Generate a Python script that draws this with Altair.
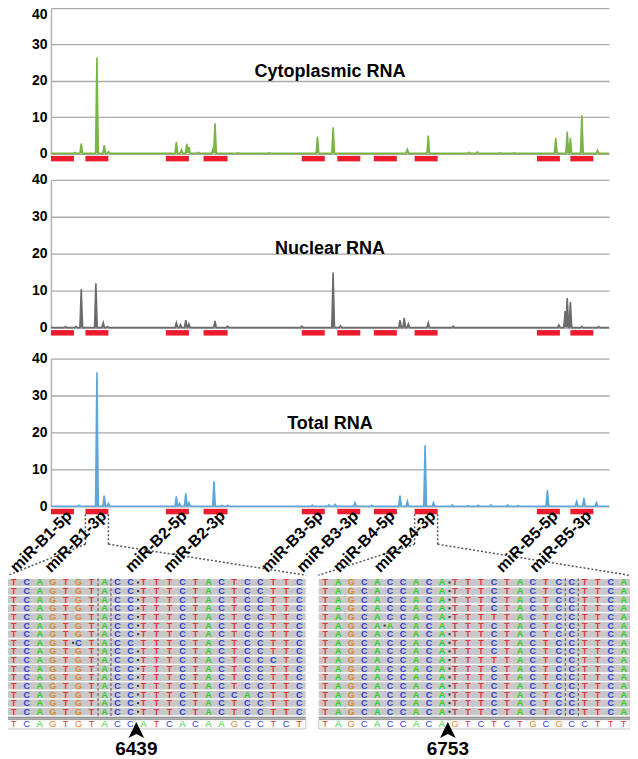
import altair as alt
import pandas as pd

FONT = "Liberation Sans"

# ---------------- data ----------------
# genome window shown (nt)
X_DOMAIN = [6394, 6928]

# read-coverage peaks (position nt, reads per million)
cyto_pos = [6417, 6423, 6438, 6445, 6449, 6514, 6519, 6524, 6526, 6535, 6549, 6551, 6573, 6603,
            6649, 6664, 6735, 6755, 6794, 6802, 6824, 6837, 6877, 6888, 6891, 6902, 6917]
cyto_val = [0.3, 2.7, 26.4, 2.3, 0.5, 3.2, 1.0, 2.6, 1.8, 0.3, 1.2, 8.3, 0.2, 0.2,
            4.6, 7.2, 1.1, 4.9, 0.3, 0.4, 0.2, 0.2, 4.3, 6.0, 4.3, 10.5, 0.8]

nuc_pos = [6408, 6418, 6423, 6437, 6444, 6448, 6514, 6518, 6523, 6526, 6551, 6563, 6634,
           6664, 6671, 6728, 6732, 6736, 6755, 6779, 6880, 6886, 6888, 6891, 6902, 6918]
nuc_val = [0.3, 0.3, 10.4, 12.0, 1.3, 0.3, 1.3, 0.8, 2.0, 1.0, 1.8, 0.4, 0.4,
           14.9, 0.5, 2.0, 2.6, 1.0, 1.3, 0.4, 0.7, 4.5, 8.0, 6.9, 0.3, 0.3]

tot_pos = [6421, 6438, 6445, 6449, 6514, 6517, 6523, 6526, 6550, 6558, 6563, 6644, 6660, 6666,
           6685, 6701, 6728, 6735, 6752, 6760, 6778, 6793, 6803, 6815, 6831, 6841, 6869,
           6897, 6904, 6916]
tot_val = [0.3, 36.3, 2.9, 0.8, 2.7, 0.8, 3.5, 1.0, 6.8, 0.3, 0.3, 0.3, 0.4, 0.5,
           1.0, 0.3, 2.9, 1.4, 16.5, 1.0, 0.4, 0.2, 0.3, 0.4, 0.4, 0.2, 4.4,
           1.3, 2.3, 1.0]

mir_names = ["miR-B1-5p", "miR-B1-3p", "miR-B2-5p", "miR-B2-3p", "miR-B3-5p",
             "miR-B3-3p", "miR-B4-5p", "miR-B4-3p", "miR-B5-5p", "miR-B5-3p"]
mir_start = [6394, 6427, 6504, 6540, 6634, 6668, 6703, 6742, 6859, 6891]
mir_end = [6416, 6449, 6526, 6563, 6656, 6690, 6725, 6764, 6881, 6913]

# zoomed loci: bar edges and where the callout lines land
callout_edge = [6427, 6449, 6742, 6764]
callout_target = [6353, 6638, 6650, 6947]

# read alignments ('.' = gap marker before the next base)
left_reads = ["TCAGTGTACC.TTTCTACTCCTTC"] * 7 + ["TCAGT.CTACCTTTCTACTCCTTC",
              "TCAGTGTACC.TTTCTACTCCTTC", "TCAGTGTACC.TTTCTACTCCCTC"] + \
             ["TCAGTGTACC.TTTCTACTCCTTC"] * 3 + ["TCAGTGTACC.TTTCTACCACTTC"] + \
             ["TCAGTGTACC.TTTCTACTCCTTC"] * 2
right_reads = ["TAGCACCACA.TTTCTACTCCTTCA"] * 4 + ["TAGCACCACA.TTTTTACTCCTTCA",
               "TAGCA.ACACATTTCTACTCCTTCA"] + ["TAGCACCACA.TTTCTACTCCTTCA"] * 3 + \
              ["TAGCACCACA.TTTTTACTCCTTCA"] + ["TAGCACCACA.TTTCTACTCCTTCA"] * 6
ref_left = "TCAGTGTACCATCACAAGCCTCT"
ref_right = "TAGCACCACAGTCTCTGCGCCTTT"
site_labels = ["6439", "6753"]

# ---------------- styles ----------------
W, H = 559, 148
H1 = 145.5
RED = "#ee1b2e"
BASE_COLORS = ["#2ccf2c", "#2f40d8", "#d8892c", "#e8343a"]  # A C G T

xs = alt.Scale(domain=X_DOMAIN, nice=False, zero=False)
ys = alt.Scale(domain=[0, 40], nice=False, zero=False)
axis_style = dict(values=[0, 10, 20, 30, 40], title=None, grid=True, ticks=False,
                  labelPadding=4, labelFont=FONT, labelFontSize=14, labelFontWeight="bold",
                  labelColor="black", gridColor="#a9a9a9", gridWidth=1.3,
                  domainColor="#b4b4b4", domainWidth=1.5)
yaxis = alt.Axis(**axis_style)
yaxis_top = alt.Axis(**axis_style,
                     labelOffset={"condition": {"test": "datum.value == 40", "value": 6}, "value": 0})


def envelope(pos, val, hw=1.3):
    pts = sorted(set(X_DOMAIN + [p + d for p in pos for d in (-hw, 0.0, hw)]))
    vals = []
    for x in pts:
        vals.append(max([0.0] + [v * (1 - abs(x - p) / hw) for p, v in zip(pos, val)
                                  if abs(x - p) < hw]))
    return pd.DataFrame({"pos": pts, "val": vals})


bars_df = pd.DataFrame({"start": mir_start, "end": mir_end, "name": mir_names})
bars_df["mid"] = (bars_df["start"] + bars_df["end"]) / 2


def track(pos, val, color, title, title_y, ext, axis, h):
    area = alt.Chart(envelope(pos, val)).mark_area(
        color=color, opacity=1, line={"color": color, "strokeWidth": 1.6}
    ).encode(x=alt.X("pos:Q", scale=xs, axis=None), y=alt.Y("val:Q", scale=ys, axis=axis))
    bars = alt.Chart(bars_df).mark_rect(color=RED).encode(
        x=alt.X("start:Q", scale=xs, axis=None), x2="end:Q",
        y=alt.value(h + 2.5), y2=alt.value(h + 8))
    ttl = alt.Chart(pd.DataFrame({"t": [title]})).mark_text(
        font=FONT, fontSize=18, fontWeight="bold", color="black", baseline="middle"
    ).encode(text="t:N", x=alt.value(W / 2), y=alt.value(title_y))
    extender = alt.Chart(pd.DataFrame({"a": [0]})).mark_rule(opacity=0).encode(
        x=alt.value(0), x2=alt.value(1), y=alt.value(ext), y2=alt.value(ext))
    return [area, bars, ttl, extender]


p1 = alt.layer(*track(cyto_pos, cyto_val, "#79b543", "Cytoplasmic RNA", 64.5, 164.5,
                      yaxis_top, H1)).properties(width=W, height=H1)
p2 = alt.layer(*track(nuc_pos, nuc_val, "#6b6b6b", "Nuclear RNA", 69, 172,
                      yaxis, H)).properties(width=W, height=H)

t_layers = track(tot_pos, tot_val, "#5da6dc", "Total RNA", 66, 219, yaxis, H)
labels = alt.Chart(bars_df).mark_text(
    font=FONT, fontSize=16, fontWeight="bold", angle=315, align="right",
    baseline="middle", color="black", dx=5, dy=5
).encode(x=alt.X("mid:Q", scale=xs, axis=None), y=alt.value(H + 7), text="name:N")
conn_df = pd.DataFrame({"edge": callout_edge, "target": callout_target})
vert = alt.Chart(conn_df).mark_rule(color="#555555", strokeDash=[2, 2], strokeWidth=1.5).encode(
    x=alt.X("edge:Q", scale=xs, axis=None), y=alt.value(H + 8), y2=alt.value(H + 38))
diag = alt.Chart(conn_df).mark_rule(color="#555555", strokeDash=[2, 2], strokeWidth=1.5).encode(
    x=alt.X("edge:Q", scale=xs, axis=None), x2="target:Q",
    y=alt.value(H + 38), y2=alt.value(H + 69))
p3 = alt.layer(*t_layers, vert, diag, labels).properties(width=W, height=H)

# ---------------- alignment panel ----------------
OFFS = [0, 24]
letters, dots, bands, refbox = [], [], [], []
for off, reads, ref in ((OFFS[0], left_reads, ref_left), (OFFS[1], right_reads, ref_right)):
    ncol = len(ref)
    for k, s in enumerate(reads):
        c = 0
        for ch in s:
            if ch == ".":
                dots.append({"u": off + c - 0.42, "v": k + 0.5})
            else:
                letters.append({"u": off + c, "v": k + 0.5, "base": ch, "kind": "read"})
                c += 1
        bands.append({"u1": off - 0.5, "u2": off + ncol - 0.5, "v1": k + 0.08, "v2": k + 0.92})
    for c, ch in enumerate(ref):
        letters.append({"u": off + c, "v": 16.95, "base": ch, "kind": "ref"})
    refbox.append({"u1": off - 0.5, "u2": off + ncol - 0.5, "v1": 16.42, "v2": 17.5})
letters = pd.DataFrame(letters)
dashes = pd.DataFrame({"u": [6.5, 7.5, 42.5, 43.5], "v1": [0] * 4, "v2": [16] * 4})
dlines = pd.DataFrame({"u1": [-0.5, -0.5, 23.5, 23.5], "u2": [22.5, 22.5, 47.5, 47.5],
                       "v": [16.14, 16.34, 16.14, 16.34]})
sites = pd.DataFrame({"u": [9.45, 33.45], "t": site_labels})

SH = 179
sx = alt.Scale(domain=[2.869, 2.869 + W / 13.0], nice=False, zero=False)
sy = alt.Scale(domain=[0, SH / 8.63], nice=False, zero=False, reverse=True)
colscale = alt.Scale(domain=["A", "C", "G", "T"], range=BASE_COLORS)

band_l = alt.Chart(pd.DataFrame(bands)).mark_rect(color="#c8c8c8").encode(
    x=alt.X("u1:Q", scale=sx, axis=None), x2="u2:Q",
    y=alt.Y("v1:Q", scale=sy, axis=None), y2="v2:Q")
ref_l = alt.Chart(pd.DataFrame(refbox)).mark_rect(fill="white", stroke="#b5b5b5", strokeWidth=0.8).encode(
    x=alt.X("u1:Q", scale=sx, axis=None), x2="u2:Q",
    y=alt.Y("v1:Q", scale=sy, axis=None), y2="v2:Q")
dl_l = alt.Chart(dlines).mark_rule(color="#707070", strokeWidth=1).encode(
    x=alt.X("u1:Q", scale=sx, axis=None), x2="u2:Q", y=alt.Y("v:Q", scale=sy, axis=None))
dash_l = alt.Chart(dashes).mark_rule(color="#555555", strokeWidth=1, strokeDash=[3, 2]).encode(
    x=alt.X("u:Q", scale=sx, axis=None), y=alt.Y("v1:Q", scale=sy, axis=None), y2="v2:Q")
read_l = alt.Chart(letters[letters.kind == "read"]).mark_text(
    font=FONT, fontSize=9, fontWeight="bold").encode(
    x=alt.X("u:Q", scale=sx, axis=None), y=alt.Y("v:Q", scale=sy, axis=None),
    text="base:N", color=alt.Color("base:N", scale=colscale, legend=None))
refl_l = alt.Chart(letters[letters.kind == "ref"]).mark_text(
    font=FONT, fontSize=9.5, fontWeight="normal").encode(
    x=alt.X("u:Q", scale=sx, axis=None), y=alt.Y("v:Q", scale=sy, axis=None),
    text="base:N", color=alt.Color("base:N", scale=colscale, legend=None))
dot_l = alt.Chart(pd.DataFrame(dots)).mark_square(color="#333333", size=4, opacity=1).encode(
    x=alt.X("u:Q", scale=sx, axis=None), y=alt.Y("v:Q", scale=sy, axis=None))
arrow_l = alt.Chart(sites).mark_point(
    shape="M0,-1L0.85,0.75L0,0.3L-0.85,0.75Z", filled=True, color="black", size=340, opacity=1
).encode(x=alt.X("u:Q", scale=sx, axis=None), y=alt.datum(17.75, scale=sy))
num_l = alt.Chart(sites).mark_text(font=FONT, fontSize=19, fontWeight="bold", color="black").encode(
    x=alt.X("u:Q", scale=sx, axis=None), y=alt.datum(19.85, scale=sy), text="t:N")

seq = alt.layer(band_l, ref_l, dl_l, dash_l, read_l, refl_l, dot_l, arrow_l, num_l).properties(
    width=W, height=SH)

chart = alt.vconcat(p1, p2, p3, seq, spacing=0).properties(
    padding={"left": -2, "top": -1.5, "right": -1, "bottom": 0}, background="white"
).configure_view(stroke=None)

chart.save("out.html", embed_options={"renderer": "svg", "actions": False})
